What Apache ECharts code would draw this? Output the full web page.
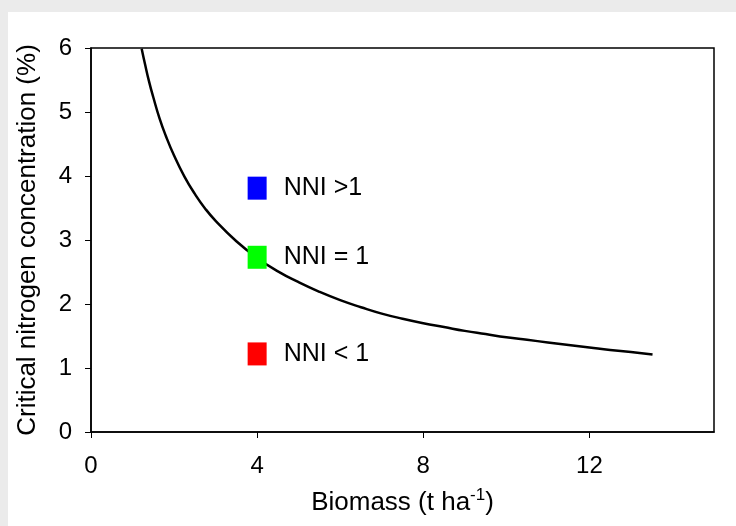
<!DOCTYPE html>
<html>
<head>
<meta charset="utf-8">
<script src="https://cdn.jsdelivr.net/npm/echarts@6/dist/echarts.min.js"></script>
<style>
html,body{margin:0;padding:0;background:#ebebeb;}
#chart{width:736px;height:526px;}
</style>
</head>
<body>
<div id="chart"></div>
<script>
// Critical N dilution curve
var curveBiomass = [1.22, 1.3, 1.4, 1.5, 1.65, 1.8, 2.0, 2.25, 2.5, 2.75, 3.0, 3.5, 4.0, 4.5, 5.0, 5.5, 6.0, 6.5, 7.0, 7.5, 8.0, 8.5, 9.0, 9.5, 10.0, 10.5, 11.0, 11.5, 12.0, 12.5, 13.0, 13.52];
var curveN       = [5.99, 5.75, 5.47, 5.23, 4.90, 4.63, 4.32, 3.99, 3.72, 3.49, 3.30, 2.98, 2.72, 2.51, 2.34, 2.19, 2.06, 1.95, 1.85, 1.77, 1.70, 1.64, 1.58, 1.53, 1.48, 1.44, 1.40, 1.36, 1.32, 1.28, 1.25, 1.21];

// Marker squares
var markerBiomass = [4, 4, 4];
var markerN       = [3.81, 2.73, 1.22];
var markerLabels  = ['NNI >1', 'NNI = 1', 'NNI < 1'];

// Axis ticks
var xTicks = [0, 4, 8, 12];
var yTicks = [0, 1, 2, 3, 4, 5, 6];

var markerColors = ['#0000ff', '#00ff00', '#ff0000'];
var FONT = "'Liberation Sans', Arial, sans-serif";

var curveData = curveBiomass.map(function (b, i) { return [b, curveN[i]]; });
var markerData = markerBiomass.map(function (b, i) {
  return {
    value: [b, markerN[i]],
    name: markerLabels[i],
    itemStyle: { color: markerColors[i], opacity: 1 }
  };
});

var chart = echarts.init(document.getElementById('chart'));
chart.setOption({
  animation: false,
  backgroundColor: '#ebebeb',
  graphic: [{
    type: 'rect',
    z: -10,
    silent: true,
    shape: { x: 8, y: 12, width: 728, height: 514 },
    style: { fill: '#ffffff' }
  }],
  grid: {
    left: 91, right: 22, top: 48, bottom: 94,
    show: true, borderColor: '#000', borderWidth: 1.5, backgroundColor: 'transparent'
  },
  xAxis: {
    type: 'value',
    min: 0, max: 15,
    name: 'Biomass (t ha{sup|-1})',
    nameLocation: 'middle',
    nameGap: 55,
    nameTextStyle: {
      fontFamily: FONT, fontSize: 26, color: '#000',
      rich: { sup: { fontFamily: FONT, fontSize: 17, color: '#000', verticalAlign: 'top', padding: [0, 0, 14, 0] } }
    },
    splitLine: { show: false },
    axisLine: { onZero: false, lineStyle: { color: '#000', width: 1.5 } },
    axisTick: { customValues: xTicks, length: 6, inside: false, lineStyle: { color: '#000' } },
    axisLabel: { customValues: xTicks, margin: 22, fontFamily: FONT, fontSize: 24, color: '#000' }
  },
  yAxis: {
    type: 'value',
    min: 0, max: 6, interval: 1,
    name: 'Critical nitrogen concentration (%)',
    nameLocation: 'middle',
    nameGap: 50,
    nameTextStyle: { fontFamily: FONT, fontSize: 26, color: '#000' },
    splitLine: { show: false },
    axisLine: { show: true, onZero: false, lineStyle: { color: '#000', width: 1.5 } },
    axisTick: { show: true, customValues: yTicks, length: 6, lineStyle: { color: '#000' } },
    axisLabel: { customValues: yTicks, margin: 19, fontFamily: FONT, fontSize: 24, color: '#000' }
  },
  series: [{
    type: 'line',
    data: curveData,
    smooth: 0.5,
    showSymbol: false,
    lineStyle: { color: '#000', width: 2.5 },
    z: 2
  }, {
    type: 'scatter',
    data: markerData,
    symbol: 'rect',
    symbolSize: [19, 23],
    z: 3,
    label: {
      show: true,
      position: 'right',
      distance: 17,
      formatter: function (p) { return p.name; },
      fontFamily: FONT, fontSize: 25, color: '#000'
    }
  }]
});
</script>
</body>
</html>
